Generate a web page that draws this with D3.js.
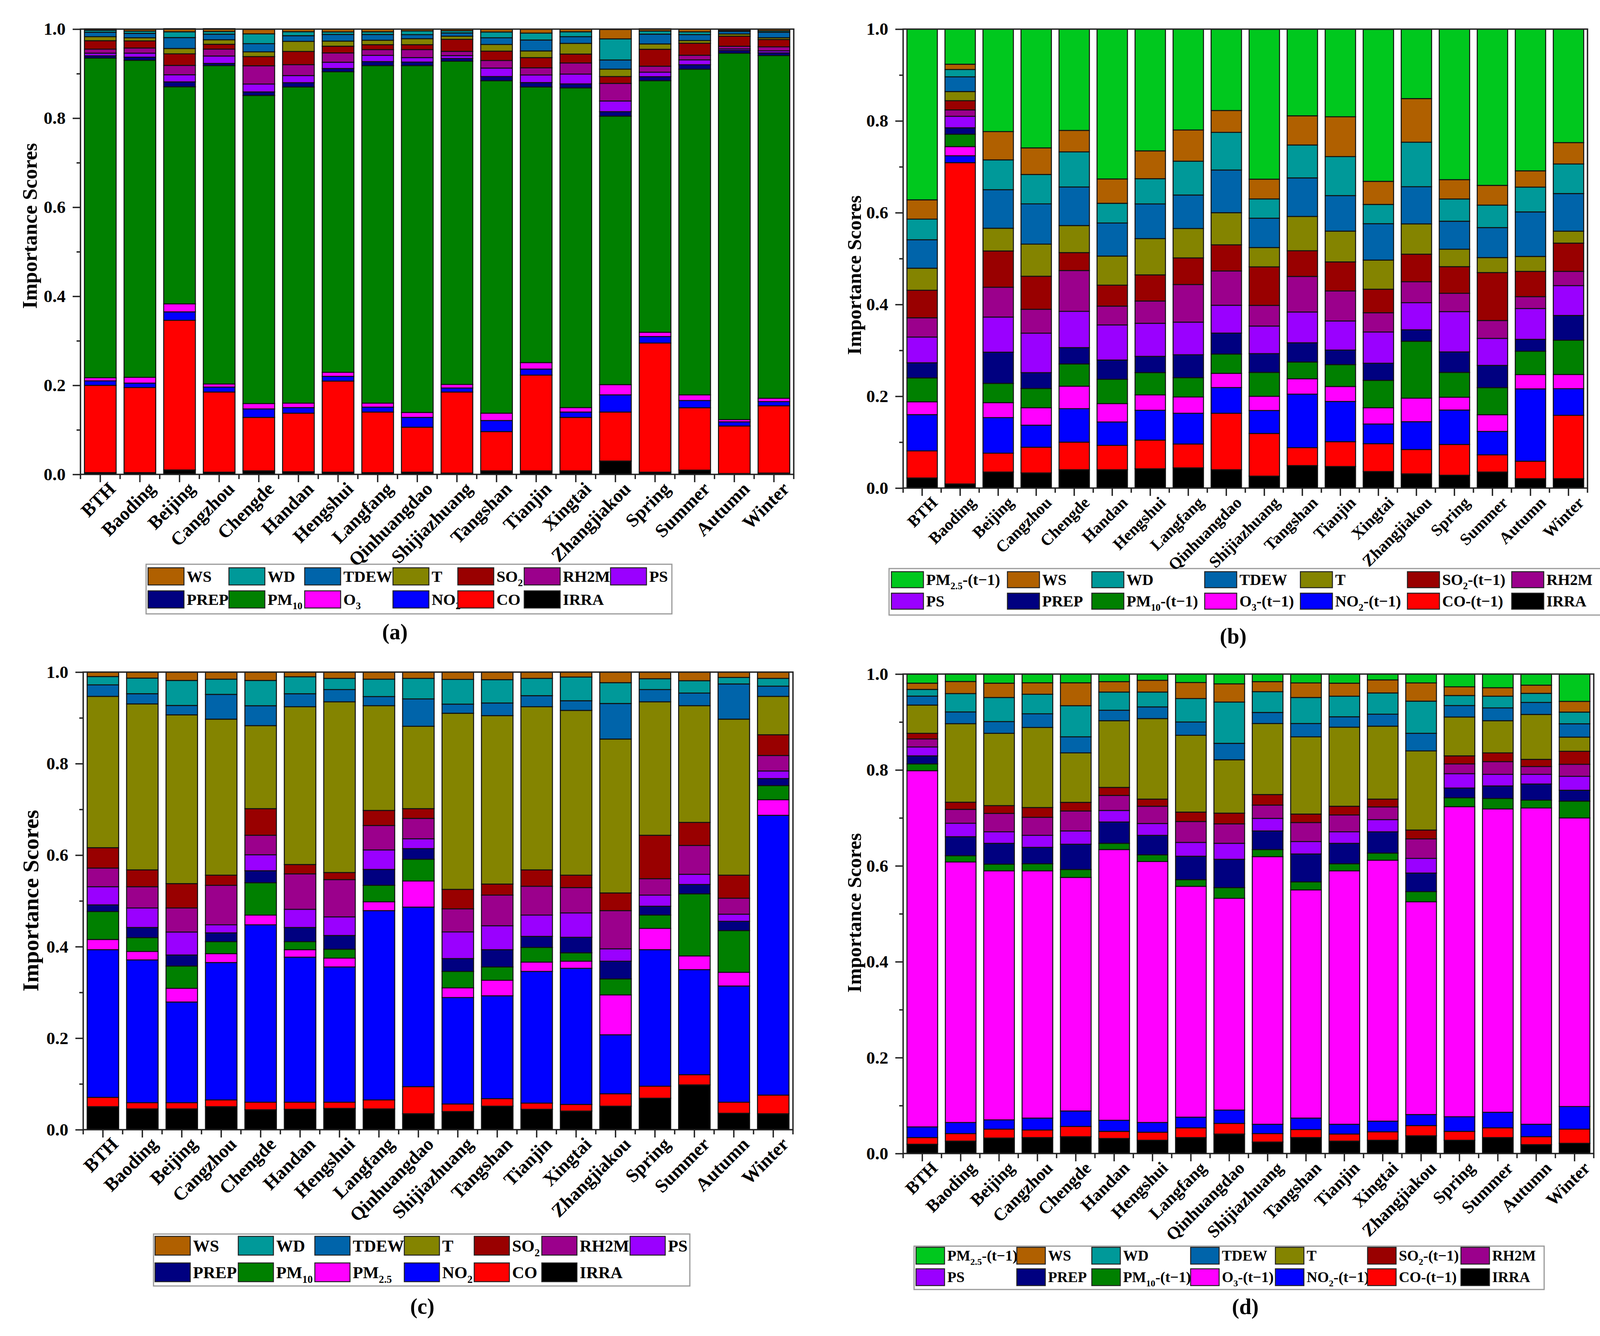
<!DOCTYPE html>
<html>
<head>
<meta charset="utf-8">
<script src="https://cdn.jsdelivr.net/npm/d3@7/dist/d3.min.js"></script>
<style>
  body { margin: 0; background: #fff; }
  text { font-family: "Liberation Serif", "Times New Roman", serif; font-weight: bold; fill: #000; }
</style>
</head>
<body>
<div id="chart"></div>
<script>
// Categories (x axis)
var sites = ["BTH", "Baoding", "Beijing", "Cangzhou", "Chengde", "Handan", "Hengshui", "Langfang",
  "Qinhuangdao", "Shijiazhuang", "Tangshan", "Tianjin", "Xingtai", "Zhangjiakou",
  "Spring", "Summer", "Autumn", "Winter"];
var yMajor = [0, 0.2, 0.4, 0.6, 0.8, 1.0];
var yMinor = [0.1, 0.3, 0.5, 0.7, 0.9];

// Panel (a)
var aIRRA = [.004,.004,.010,.005,.008,.006,.005,.004,.005,.003,.008,.008,.008,.030,.005,.0096,.002,.003];
var aCO   = [.196,.191,.336,.180,.120,.1315,.2046,.136,.101,.182,.088,.215,.120,.110,.290,.140,.1067,.151];
var aNO2  = [.010,.010,.019,.011,.019,.0125,.0106,.011,.022,.009,.025,.0135,.012,.0386,.0146,.0163,.0093,.0095];
var aO3   = [.007,.013,.018,.007,.012,.010,.009,.009,.011,.008,.0165,.0145,.010,.023,.0096,.0127,.005,.0075];
var aPM10 = [.718,.712,.4875,.715,.692,.710,.675,.758,.779,.726,.7465,.619,.718,.603,.565,.7314,.823,.7697];
var aPREP = [.005,.007,.011,.005,.008,.0097,.0074,.009,.008,.006,.0095,.010,.009,.010,.009,.010,.006,.006];
var aPS   = [.006,.009,.016,.0166,.0177,.016,.014,.014,.010,.0065,.019,.017,.022,.024,.010,.011,.0035,.0045];
var aRH2M = [.009,.0115,.021,.0154,.041,.0245,.021,.013,.018,.0095,.017,.016,.025,.0395,.0135,.0103,.006,.009];
var aSO2  = [.019,.016,.026,.011,.0206,.0296,.015,.011,.011,.027,.021,.023,.020,.0154,.038,.027,.0226,.0165];
var aT    = [.009,.007,.012,.010,.0106,.0227,.0115,.010,.0135,.007,.015,.015,.024,.0166,.012,.006,.005,.004];
var aTDEW = [.010,.010,.0245,.0126,.0184,.0127,.015,.013,.009,.0074,.015,.0245,.015,.0206,.022,.0134,.006,.0125];
var aWD   = [.0045,.005,.013,.006,.022,.009,.0056,.006,.0085,.005,.013,.0155,.011,.0474,.007,.0062,.002,.003];
var aWS   = [.003,.004,.007,.0065,.010,.006,.0065,.006,.004,.0035,.006,.009,.006,.021,.005,.006,.003,.0035];

// Panel (b)
var bIRRA = [.022,.009,.035,.033,.040,.040,.042,.044,.040,.026,.049,.047,.036,.031,.028,.035,.0205,.0205];
var bCO   = [.059,.700,.041,.056,.060,.053,.0625,.052,.123,.093,.039,.054,.0606,.053,.067,.0374,.038,.138];
var bNO2  = [.079,.015,.0775,.048,.073,.051,.065,.067,.056,.050,.1166,.0877,.043,.0606,.075,.051,.1576,.058];
var bO3   = [.028,.020,.0326,.038,.049,.040,.0336,.0355,.031,.031,.0336,.0326,.0354,.0513,.028,.0364,.031,.031];
var bPM10 = [.052,.027,.042,.042,.0485,.053,.0485,.042,.042,.052,.0364,.0477,.0597,.124,.054,.059,.051,.0746];
var bPREP = [.033,.014,.068,.0345,.0355,.042,.0354,.050,.0457,.041,.042,.0317,.0373,.025,.0447,.0485,.026,.054];
var bPS   = [.056,.025,.0765,.086,.079,.0764,.072,.071,.0606,.060,.067,.0634,.068,.059,.0877,.0588,.067,.065];
var bRH2M = [.042,.014,.065,.052,.089,.041,.0485,.082,.0747,.045,.0775,.0653,.042,.0457,.040,.039,.026,.031];
var bSO2  = [.060,.020,.079,.072,.039,.0457,.057,.058,.057,.084,.056,.0634,.0513,.060,.058,.1044,.055,.0616];
var bT    = [.048,.020,.0495,.070,.059,.0634,.079,.064,.070,.042,.0747,.067,.0634,.066,.038,.0327,.0326,.026];
var bTDEW = [.062,.032,.084,.0877,.084,.072,.0756,.073,.093,.064,.084,.0774,.0793,.081,.061,.0653,.097,.082];
var bWD   = [.045,.016,.065,.064,.0765,.043,.055,.0737,.082,.042,.0717,.085,.042,.097,.0485,.049,.054,.0644];
var bWS   = [.042,.0115,.0616,.058,.0467,.053,.0606,.068,.0476,.043,.0636,.0868,.0503,.095,.042,.043,.0355,.0466];
var bPM25 = [.372,.0765,.2233,.2588,.221,.3265,.265,.2198,.177,.3265,.1889,.191,.331,.151,.328,.3405,.3088,.2472];

// Panel (c)
var cIRRA = [.0504,.0455,.0455,.0504,.0436,.0446,.0465,.0455,.0349,.0397,.0514,.0446,.0407,.0514,.0688,.0979,.0359,.0349];
var cCO   = [.0203,.0135,.0135,.0146,.0164,.0154,.0135,.0195,.0591,.0165,.0164,.0135,.0145,.0271,.0262,.0223,.0241,.0407];
var cNO2  = [.3227,.312,.22,.3003,.3877,.317,.2956,.4137,.3924,.2326,.2248,.2878,.2975,.1289,.2984,.2296,.254,.6114];
var cPM25 = [.0223,.0185,.03,.0194,.0213,.0164,.0194,.0193,.0572,.0212,.034,.0204,.0155,.0872,.0465,.03,.03,.034];
var cPM10 = [.061,.0301,.0486,.0262,.0707,.0175,.0194,.036,.0474,.0359,.029,.032,.0184,.0349,.0291,.1357,.0911,.031];
var cPREP = [.0146,.0223,.0242,.0193,.0262,.031,.03,.0348,.0233,.0281,.0378,.0242,.0339,.0387,.0194,.0204,.0203,.0154];
var cPS   = [.0397,.0426,.0502,.0175,.0349,.0397,.0407,.0426,.0214,.0582,.0523,.0465,.0533,.0271,.0242,.0222,.0155,.0165];
var cRH2M = [.0407,.0465,.0525,.0863,.0426,.0775,.0814,.0533,.0445,.0504,.0669,.063,.0552,.0834,.0358,.063,.0349,.0339];
var cSO2  = [.0446,.0368,.0533,.0222,.0582,.0204,.0155,.033,.0214,.0426,.0242,.0358,.0272,.0387,.095,.0504,.0504,.0453];
var cT    = [.3307,.3627,.3688,.341,.1814,.3448,.3731,.2289,.18,.3849,.3681,.3565,.3601,.3363,.2917,.2551,.341,.0839];
var cTDEW = [.0251,.0223,.0205,.0541,.0435,.0284,.0267,.0199,.0598,.0199,.0276,.0242,.0211,.0777,.0267,.0276,.0769,.0223];
var cWD   = [.0182,.0341,.0547,.0333,.0553,.0371,.0245,.0381,.0449,.054,.051,.0378,.0518,.0455,.0237,.027,.0142,.017];
var cWS   = [.0097,.0131,.0182,.0154,.0182,.0102,.0137,.0154,.0137,.016,.0165,.0137,.0108,.0231,.0145,.0188,.0117,.0137];

// Panel (d)
var dIRRA = [.0194,.0259,.0323,.0333,.0351,.0314,.0277,.0333,.0407,.024,.0333,.0259,.0277,.037,.0277,.0333,.0185,.0213];
var dCO   = [.0139,.0157,.0185,.0157,.0213,.0148,.0167,.0203,.0221,.0176,.0166,.0148,.0176,.0212,.0185,.0203,.0166,.0295];
var dNO2  = [.0222,.0231,.0194,.0249,.0323,.0231,.0203,.0222,.0278,.0194,.024,.0203,.0222,.0231,.0305,.0324,.0259,.0472];
var dO3   = [.743,.5434,.5194,.5157,.4871,.5647,.5443,.4815,.4417,.5582,.476,.5286,.5443,.4437,.6467,.6328,.6597,.602];
var dPM10 = [.0141,.013,.0139,.0148,.0166,.013,.0139,.0139,.0222,.0148,.0166,.0148,.0148,.0212,.0185,.0218,.0163,.035];
var dPREP = [.0168,.0397,.0435,.0342,.0527,.0445,.0407,.0489,.0592,.0388,.0583,.0426,.0444,.0388,.0204,.0261,.0337,.0227];
var dPS   = [.0185,.028,.024,.025,.0277,.024,.0247,.0287,.0333,.0262,.0258,.024,.0253,.0305,.0299,.0241,.0201,.029];
var dRH2M = [.0168,.029,.0383,.0376,.0416,.0313,.036,.0437,.0406,.0277,.0397,.0351,.0266,.0407,.0204,.0266,.0163,.0251];
var dSO2  = [.0117,.0149,.0163,.0204,.018,.0168,.0149,.0196,.0223,.022,.0177,.0182,.0163,.0185,.0168,.0182,.015,.0271];
var dT    = [.0589,.1638,.1508,.167,.1032,.1391,.1679,.1602,.1113,.1481,.161,.1649,.1521,.165,.081,.0671,.0937,.0296];
var dTDEW = [.0187,.0245,.0244,.0285,.0335,.0218,.0244,.0277,.0343,.0231,.0278,.0217,.025,.0367,.0239,.0267,.025,.0278];
var dWD   = [.014,.0383,.0503,.0408,.0649,.038,.031,.0489,.0861,.0434,.0543,.0429,.0443,.0671,.0209,.0244,.019,.0244];
var dWS   = [.013,.0252,.0299,.0239,.0478,.0217,.0245,.0334,.038,.0209,.0304,.0272,.0272,.038,.0182,.0177,.0171,.0223];
var dPM25 = [.019,.0158,.019,.0182,.0182,.0158,.013,.0177,.0204,.0158,.0185,.019,.0122,.0185,.0266,.0285,.0231,.057];

// Colours per variable
var colors = {
  IRRA: "#000000", CO: "#ff0000", NO2: "#0000ff", O3: "#ff00ff", PM25c: "#ff00ff",
  PM10: "#008000", PREP: "#000080", PS: "#9a00ff", RH2M: "#9b008c", SO2: "#990000",
  T: "#848400", TDEW: "#0064aa", WD: "#009999", WS: "#b06000", PM25: "#00c81e"
};

// Legend names, as [text, isSubscript] parts
var names = {
  IRRA: [["IRRA"]], CO: [["CO"]], NO2: [["NO"], ["2", 1]], O3: [["O"], ["3", 1]],
  PM25c: [["PM"], ["2.5", 1]], PM10: [["PM"], ["10", 1]], PREP: [["PREP"]], PS: [["PS"]],
  RH2M: [["RH2M"]], SO2: [["SO"], ["2", 1]], T: [["T"]], TDEW: [["TDEW"]], WD: [["WD"]],
  WS: [["WS"]], PM25: [["PM"], ["2.5", 1]]
};
var lagged = ["CO", "NO2", "O3", "PM10", "SO2", "PM25"];

var panels = [
  { tag: "(a)", lag: false,
    keys: ["IRRA","CO","NO2","O3","PM10","PREP","PS","RH2M","SO2","T","TDEW","WD","WS"],
    vals: [aIRRA,aCO,aNO2,aO3,aPM10,aPREP,aPS,aRH2M,aSO2,aT,aTDEW,aWD,aWS],
    x0: 206, x1: 2032, yTop: 74.5, yBot: 1214, xfs: 48,
    ylab: [75, 578, 53], tagPos: [1011, 1616],
    leg: { x: 374, y: 1444, w: 1346, h: 127, rows: [1453, 1512], sw: 92, sh: 44,
           cols: [379, 586, 780, 1006, 1172, 1342, 1563], fs: 41 } },
  { tag: "(b)", lag: true,
    keys: ["IRRA","CO","NO2","O3","PM10","PREP","PS","RH2M","SO2","T","TDEW","WD","WS","PM25"],
    vals: [bIRRA,bCO,bNO2,bO3,bPM10,bPREP,bPS,bRH2M,bSO2,bT,bTDEW,bWD,bWS,bPM25],
    x0: 2312, x1: 4064, yTop: 74.5, yBot: 1249, xfs: 42,
    ylab: [2186, 704, 51], tagPos: [3157, 1627],
    leg: { x: 2276, y: 1455, w: 1828, h: 119, rows: [1463, 1518], sw: 82, sh: 41,
           cols: [2282, 2579, 2795, 3084, 3329, 3603, 3870], fs: 40 } },
  { tag: "(c)", lag: false,
    keys: ["IRRA","CO","NO2","PM25c","PM10","PREP","PS","RH2M","SO2","T","TDEW","WD","WS"],
    vals: [cIRRA,cCO,cNO2,cPM25,cPM10,cPREP,cPS,cRH2M,cSO2,cT,cTDEW,cWD,cWS],
    x0: 213, x1: 2030, yTop: 1720, yBot: 2891, xfs: 48,
    ylab: [78, 2305, 58], tagPos: [1081, 3342],
    leg: { x: 393, y: 3158, w: 1373, h: 133, rows: [3164, 3232], sw: 90, sh: 48,
           cols: [397, 610, 806, 1035, 1214, 1387, 1613], fs: 43 } },
  { tag: "(d)", lag: true,
    keys: ["IRRA","CO","NO2","O3","PM10","PREP","PS","RH2M","SO2","T","TDEW","WD","WS","PM25"],
    vals: [dIRRA,dCO,dNO2,dO3,dPM10,dPREP,dPS,dRH2M,dSO2,dT,dTDEW,dWD,dWS,dPM25],
    x0: 2312, x1: 4080, yTop: 1725, yBot: 2952, xfs: 45,
    ylab: [2186, 2336, 51], tagPos: [3188, 3343],
    leg: { x: 2340, y: 3189, w: 1613, h: 111, rows: [3192, 3247], sw: 73, sh: 43,
           cols: [2345, 2603, 2795, 3048, 3265, 3501, 3740], fs: 38 } }
];

var svg = d3.select("#chart").append("svg")
    .attr("width", 4153)
    .attr("height", 3419)
    .style("display", "block");
svg.append("rect").attr("width", 4153).attr("height", 3419).attr("fill", "#fff");

function addName(text, parts, fs) {
  parts.forEach(function(p, i) {
    var sub = p[1] === 1;
    var prevSub = i > 0 && parts[i - 1][1] === 1;
    text.append("tspan")
        .attr("font-size", sub ? fs * 0.62 : fs)
        .attr("dy", sub ? fs * 0.28 : (prevSub ? -fs * 0.28 : 0))
        .text(p[0]);
  });
}

panels.forEach(function(p) {
  var g = svg.append("g");

  // rows for the stack
  var rows = sites.map(function(s, i) {
    var r = { site: s };
    p.keys.forEach(function(k, j) { r[k] = p.vals[j][i]; });
    return r;
  });

  var x = d3.scaleBand().domain(sites).range([p.x0, p.x1])
      .paddingInner(0.2).paddingOuter(0.1);
  var y = d3.scaleLinear().domain([0, 1]).range([p.yBot, p.yTop]);

  var series = d3.stack().keys(p.keys)(rows);

  // legend box first, so axis labels are never hidden under it
  var L = p.leg;
  g.append("rect")
      .attr("x", L.x).attr("y", L.y).attr("width", L.w).attr("height", L.h)
      .attr("fill", "#fff").attr("stroke", "#999").attr("stroke-width", 3);

  // bars
  g.selectAll("g.layer")
    .data(series)
    .enter().append("g")
      .attr("class", "layer")
      .attr("fill", function(d) { return colors[d.key]; })
    .selectAll("rect")
    .data(function(d) { return d; })
    .enter().append("rect")
      .attr("x", function(d) { return x(d.data.site); })
      .attr("y", function(d) { return y(d[1]); })
      .attr("width", x.bandwidth())
      .attr("height", function(d) { return Math.max(0, y(d[0]) - y(d[1])); })
      .attr("stroke", "#111")
      .attr("stroke-width", 2.5);

  // frame
  g.append("rect")
      .attr("x", p.x0).attr("y", p.yTop)
      .attr("width", p.x1 - p.x0).attr("height", p.yBot - p.yTop)
      .attr("fill", "none").attr("stroke", "#222").attr("stroke-width", 3.5);

  // y axis
  var yAxis = g.append("g")
      .attr("transform", "translate(" + p.x0 + ",0)")
      .call(d3.axisLeft(y).tickValues(yMajor).tickFormat(d3.format(".1f"))
            .tickSize(20).tickPadding(18));
  yAxis.select(".domain").remove();
  yAxis.selectAll("line").attr("stroke", "#222").attr("stroke-width", 3.5);
  yAxis.selectAll("text").attr("font-size", 45).attr("font-family", null);

  var yMin = g.append("g")
      .attr("transform", "translate(" + p.x0 + ",0)")
      .call(d3.axisLeft(y).tickValues(yMinor).tickFormat("").tickSize(10));
  yMin.select(".domain").remove();
  yMin.selectAll("line").attr("stroke", "#222").attr("stroke-width", 3.5);

  // x axis
  var xAxis = g.append("g")
      .attr("transform", "translate(0," + p.yBot + ")")
      .call(d3.axisBottom(x).tickSize(20));
  xAxis.select(".domain").remove();
  xAxis.selectAll("line").attr("stroke", "#222").attr("stroke-width", 3.5);
  xAxis.selectAll("text")
      .attr("font-size", p.xfs).attr("font-family", null)
      .attr("x", 0).attr("y", 0).attr("dy", 0)
      .attr("transform", "translate(42,40) rotate(-45)")
      .style("text-anchor", "end");

  // minor x ticks at band boundaries
  g.append("g").selectAll("line")
    .data(d3.range(sites.length + 1))
    .enter().append("line")
      .attr("x1", function(i) { return x.range()[0] + i * x.step(); })
      .attr("x2", function(i) { return x.range()[0] + i * x.step(); })
      .attr("y1", p.yBot).attr("y2", p.yBot + 12)
      .attr("stroke", "#222").attr("stroke-width", 3.5);

  // y label
  g.append("text")
      .attr("transform", "translate(" + p.ylab[0] + "," + p.ylab[1] + ") rotate(-90)")
      .attr("text-anchor", "middle")
      .attr("dy", "0.35em")
      .attr("font-size", p.ylab[2])
      .text("Importance Scores");

  // legend entries
  var entries = p.keys.slice().reverse();
  entries.forEach(function(k, i) {
    var row = Math.floor(i / 7), col = i % 7;
    var sx = L.cols[col], sy = L.rows[row];
    g.append("rect")
        .attr("x", sx).attr("y", sy).attr("width", L.sw).attr("height", L.sh)
        .attr("fill", colors[k]).attr("stroke", "#222").attr("stroke-width", 2.5);
    var t = g.append("text")
        .attr("x", sx + L.sw + 7)
        .attr("y", sy + L.sh / 2 + L.fs * 0.34)
        .attr("font-size", L.fs);
    var parts = names[k].slice();
    if (p.lag && lagged.indexOf(k) >= 0) parts = parts.concat([["-(t\u22121)"]]);
    addName(t, parts, L.fs);
  });

  // panel tag
  g.append("text")
      .attr("x", p.tagPos[0]).attr("y", p.tagPos[1])
      .attr("dy", "0.35em")
      .attr("text-anchor", "middle")
      .attr("font-size", 56)
      .text(p.tag);
});
</script>
</body>
</html>
